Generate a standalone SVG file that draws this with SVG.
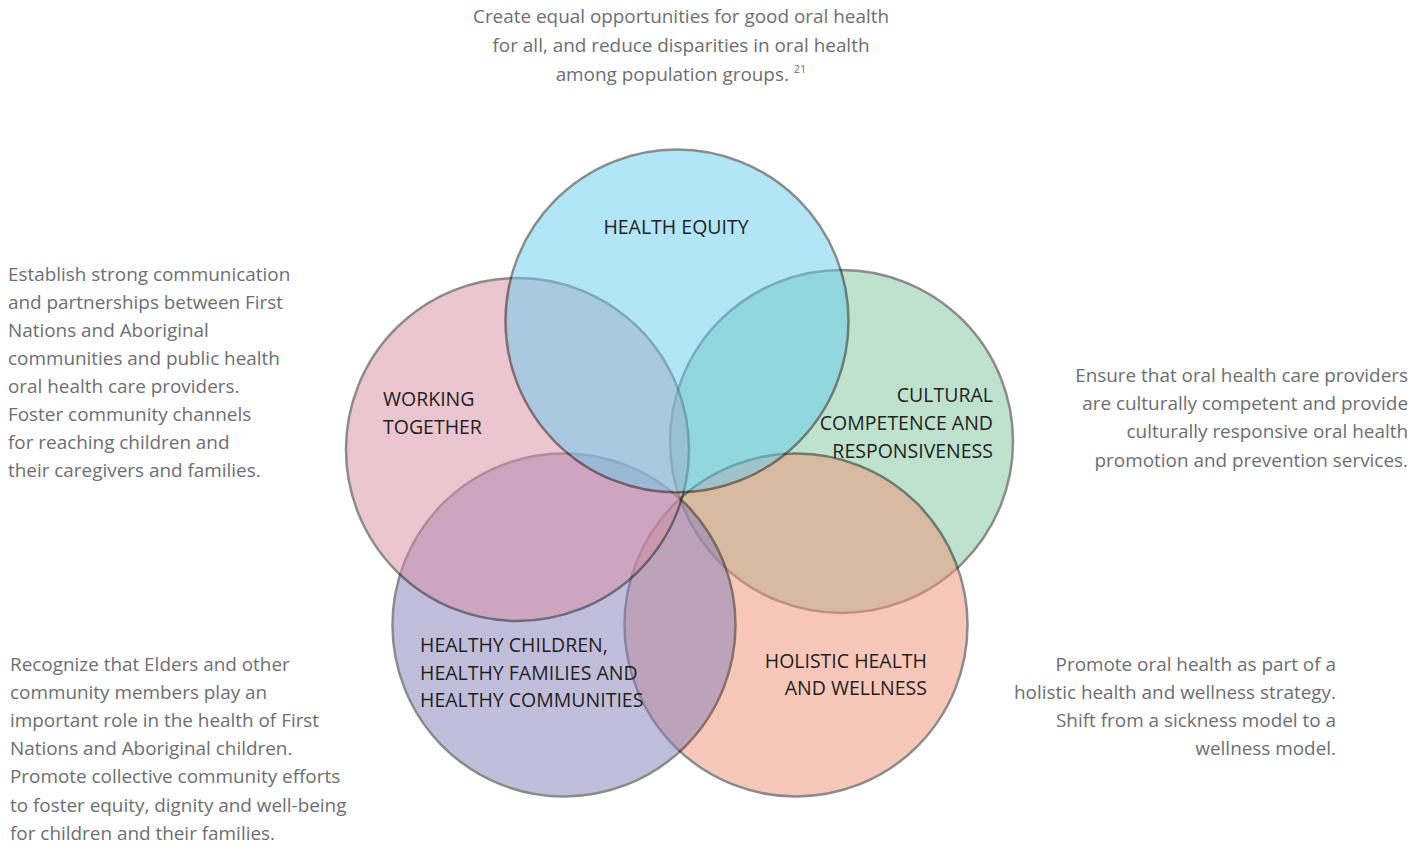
<svg xmlns="http://www.w3.org/2000/svg" width="1409" height="846" viewBox="0 0 1409 846">
<style>
.c{stroke:#1a1a1a;stroke-width:2.5;opacity:0.5}
.lbl{font-family:"Open Sans","Liberation Sans",sans-serif;font-size:19.5px;fill:#231f20}
.desc{font-family:"Open Sans","Liberation Sans",sans-serif;font-size:18.9px;fill:#6d6e71}
.sup{font-size:11px}
</style>
<rect width="1409" height="846" fill="#ffffff"/>
<g id="node-cultural">
<circle class="c" cx="841.5" cy="441.5" r="171.5" fill="#7fc79f"/>
</g>
<g id="node-holistic">
<circle class="c" cx="796" cy="625" r="171.5" fill="#f19375"/>
</g>
<g id="node-healthy-children">
<circle class="c" cx="564" cy="625" r="171.5" fill="#857fbb"/>
</g>
<g id="node-working-together">
<circle class="c" cx="517.5" cy="449.5" r="171.5" fill="#d98da1"/>
</g>
<g id="node-health-equity">
<circle class="c" cx="677" cy="321" r="171.5" fill="#67cdef"/>
</g>
<g id="connectors"></g>
<g id="labels">
<text class="lbl" x="676" y="234" text-anchor="middle">HEALTH EQUITY</text>
<text class="lbl" x="383" y="406">WORKING</text>
<text class="lbl" x="383" y="434">TOGETHER</text>
<text class="lbl" x="993" y="402" text-anchor="end">CULTURAL</text>
<text class="lbl" x="993" y="430" text-anchor="end">COMPETENCE AND</text>
<text class="lbl" x="993" y="458" text-anchor="end">RESPONSIVENESS</text>
<text class="lbl" x="420" y="652">HEALTHY CHILDREN,</text>
<text class="lbl" x="420" y="680">HEALTHY FAMILIES AND</text>
<text class="lbl" x="420" y="707">HEALTHY COMMUNITIES</text>
<text class="lbl" x="927" y="668" text-anchor="end">HOLISTIC HEALTH</text>
<text class="lbl" x="927" y="695" text-anchor="end">AND WELLNESS</text>
</g>
<g id="descriptions">
<text class="desc" x="681" y="23" text-anchor="middle">Create equal opportunities for good oral health</text>
<text class="desc" x="681" y="52" text-anchor="middle">for all, and reduce disparities in oral health</text>
<text class="desc" x="681" y="81" text-anchor="middle">among population groups. <tspan class="sup" dy="-8">21</tspan></text>
<text class="desc" x="8" y="281">Establish strong communication</text>
<text class="desc" x="8" y="309">and partnerships between First</text>
<text class="desc" x="8" y="337">Nations and Aboriginal</text>
<text class="desc" x="8" y="365">communities and public health</text>
<text class="desc" x="8" y="393">oral health care providers.</text>
<text class="desc" x="8" y="421">Foster community channels</text>
<text class="desc" x="8" y="449">for reaching children and</text>
<text class="desc" x="8" y="477">their caregivers and families.</text>
<text class="desc" x="1408" y="382" text-anchor="end">Ensure that oral health care providers</text>
<text class="desc" x="1408" y="410" text-anchor="end">are culturally competent and provide</text>
<text class="desc" x="1408" y="438" text-anchor="end">culturally responsive oral health</text>
<text class="desc" x="1408" y="467" text-anchor="end">promotion and prevention services.</text>
<text class="desc" x="10" y="671">Recognize that Elders and other</text>
<text class="desc" x="10" y="699">community members play an</text>
<text class="desc" x="10" y="727">important role in the health of First</text>
<text class="desc" x="10" y="755">Nations and Aboriginal children.</text>
<text class="desc" x="10" y="783">Promote collective community efforts</text>
<text class="desc" x="10" y="812">to foster equity, dignity and well-being</text>
<text class="desc" x="10" y="840">for children and their families.</text>
<text class="desc" x="1336" y="671" text-anchor="end">Promote oral health as part of a</text>
<text class="desc" x="1336" y="699" text-anchor="end">holistic health and wellness strategy.</text>
<text class="desc" x="1336" y="727" text-anchor="end">Shift from a sickness model to a</text>
<text class="desc" x="1336" y="755" text-anchor="end">wellness model.</text>
</g>
</svg>
